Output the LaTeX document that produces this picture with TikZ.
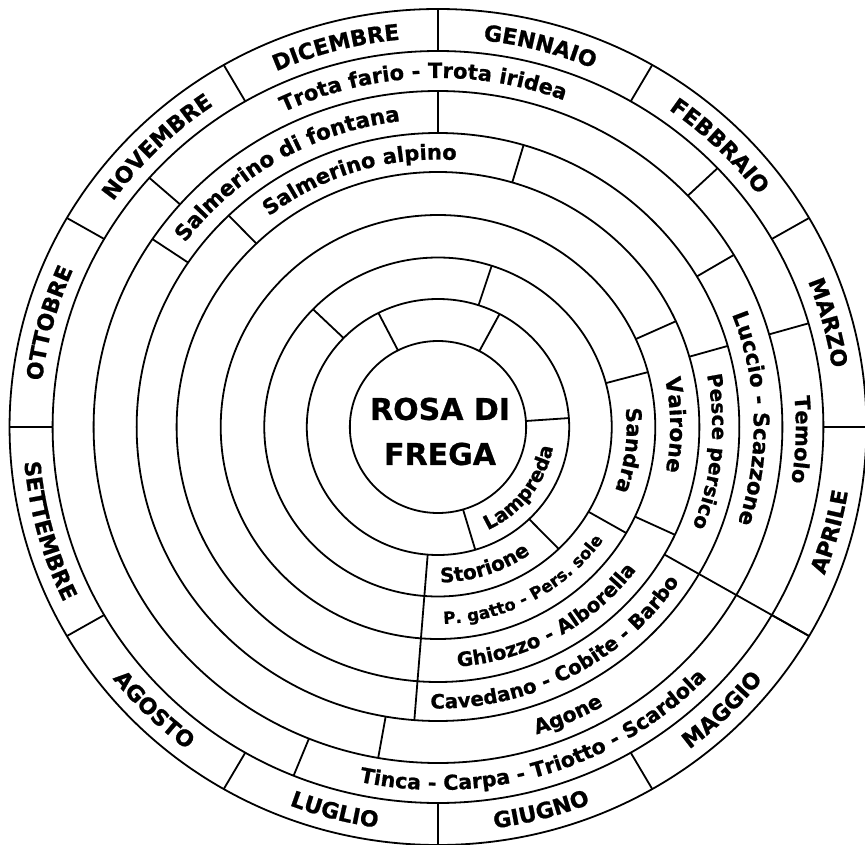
\documentclass[tikz,border=0pt]{standalone}
\usepackage{fontspec}
\setmainfont{DejaVu Sans}[BoldFeatures={FakeBold=0.8}]
\usetikzlibrary{decorations.text}
\newcommand\centerf{\bfseries\fontsize{30}{45}\selectfont}
\tikzset{
  ringline/.style={line width=1.8pt, black},
}
% text along an arc, clockwise (letter tops outward): radius, centre angle, text, size
\newcommand\cwtext[4]{%
  \path[decorate, decoration={text along path, text align=center,
      text={|\bfseries\fontsize{#4}{#4}\selectfont|#3}}]
    ({#2+70}:#1) arc[start angle={#2+70}, end angle={#2-70}, radius=#1];}
% text along an arc, counter-clockwise (letter tops inward)
\newcommand\ccwtext[4]{%
  \path[decorate, decoration={text along path, text align=center,
      text={|\bfseries\fontsize{#4}{#4}\selectfont|#3}}]
    ({#2-70}:#1) arc[start angle={#2-70}, end angle={#2+70}, radius=#1];}
\begin{document}
\begin{tikzpicture}[x=1.025pt, y=1pt]
\useasboundingbox (-427.32,-417) rectangle (416.59,427);
\fill[white] (-427.32,-417) rectangle (416.59,427);
% circles
\foreach \r in {86,128,169.5,212,255,294,336,376,418}
  \draw[ringline] (0,0) circle[radius=\r];
% ring 1: months
\foreach \a in {0,30,...,330}
  \draw[ringline] (\a:376) -- (\a:418);
% ring 2
\foreach \a in {138.5,43.5,16,-112}
  \draw[ringline] (\a:336) -- (\a:376);
% ring 3
\foreach \a in {146,90,30.8,-100}
  \draw[ringline] (\a:294) -- (\a:336);
% ring 4
\foreach \a in {134,73.5,16}
  \draw[ringline] (\a:255) -- (\a:294);
% long divider at -30
\draw[ringline] (-30:255) -- (-30:418);
% ring 5
\foreach \a in {24.5,-25}
  \draw[ringline] (\a:212) -- (\a:255);
% ring 6
\foreach \a in {15,-30}
  \draw[ringline] (\a:169.5) -- (\a:212);
% long divider at -94.5
\draw[ringline] (-94.5:128) -- (-94.5:294);
% ring 7
\foreach \a in {136,72,-46}
  \draw[ringline] (\a:128) -- (\a:169.5);
% ring 8
\foreach \a in {117,62,4,-73.5}
  \draw[ringline] (\a:86) -- (\a:128);

% month labels
\cwtext{389}{75}{GENNAIO}{22}
\cwtext{389}{45}{FEBBRAIO}{22}
\cwtext{389}{15}{MARZO}{22}
\ccwtext{405}{-15}{APRILE}{22}
\ccwtext{405}{-45}{MAGGIO}{22}
\ccwtext{405}{-75}{GIUGNO}{22}
\ccwtext{405}{-105}{LUGLIO}{22}
\ccwtext{405}{-135}{AGOSTO}{22}
\ccwtext{405}{-165}{SETTEMBRE}{22}
\cwtext{389}{165}{OTTOBRE}{22}
\cwtext{389}{135}{NOVEMBRE}{22}
\cwtext{389}{105}{DICEMBRE}{22}

% fish labels
\cwtext{349}{92.5}{Trota fario - Trota iridea}{21}
\cwtext{349}{-2}{Temolo}{21}
\ccwtext{363}{-72.7}{Tinca - Carpa - Triotto - Scardola}{20.6}
\cwtext{308}{120.5}{Salmerino di fontana}{21.5}
\cwtext{308}{1.6}{Luccio - Scazzone}{21.5}
\ccwtext{322}{-65.8}{Agone}{20.5}
\cwtext{267.5}{107.4}{Salmerino alpino}{21}
\cwtext{267.5}{-5.2}{Pesce persico}{20}
\ccwtext{281.5}{-62}{Cavedano - Cobite - Barbo}{19.8}
\cwtext{226.5}{0.5}{Vairone}{21.5}
\ccwtext{240.5}{-60.5}{Ghiozzo - Alborella}{19.8}
\cwtext{184}{-7}{Sandra}{21}
\ccwtext{197}{-61.3}{P. gatto - Pers. sole}{16.8}
\ccwtext{155.5}{-71.5}{Storione}{20}
\ccwtext{114}{-37}{Lampreda}{19.5}

\node[font=\centerf, align=center, inner sep=0pt] (title) at (2,-4.5) {ROSA DI\\FREGA};
\end{tikzpicture}
\end{document}
